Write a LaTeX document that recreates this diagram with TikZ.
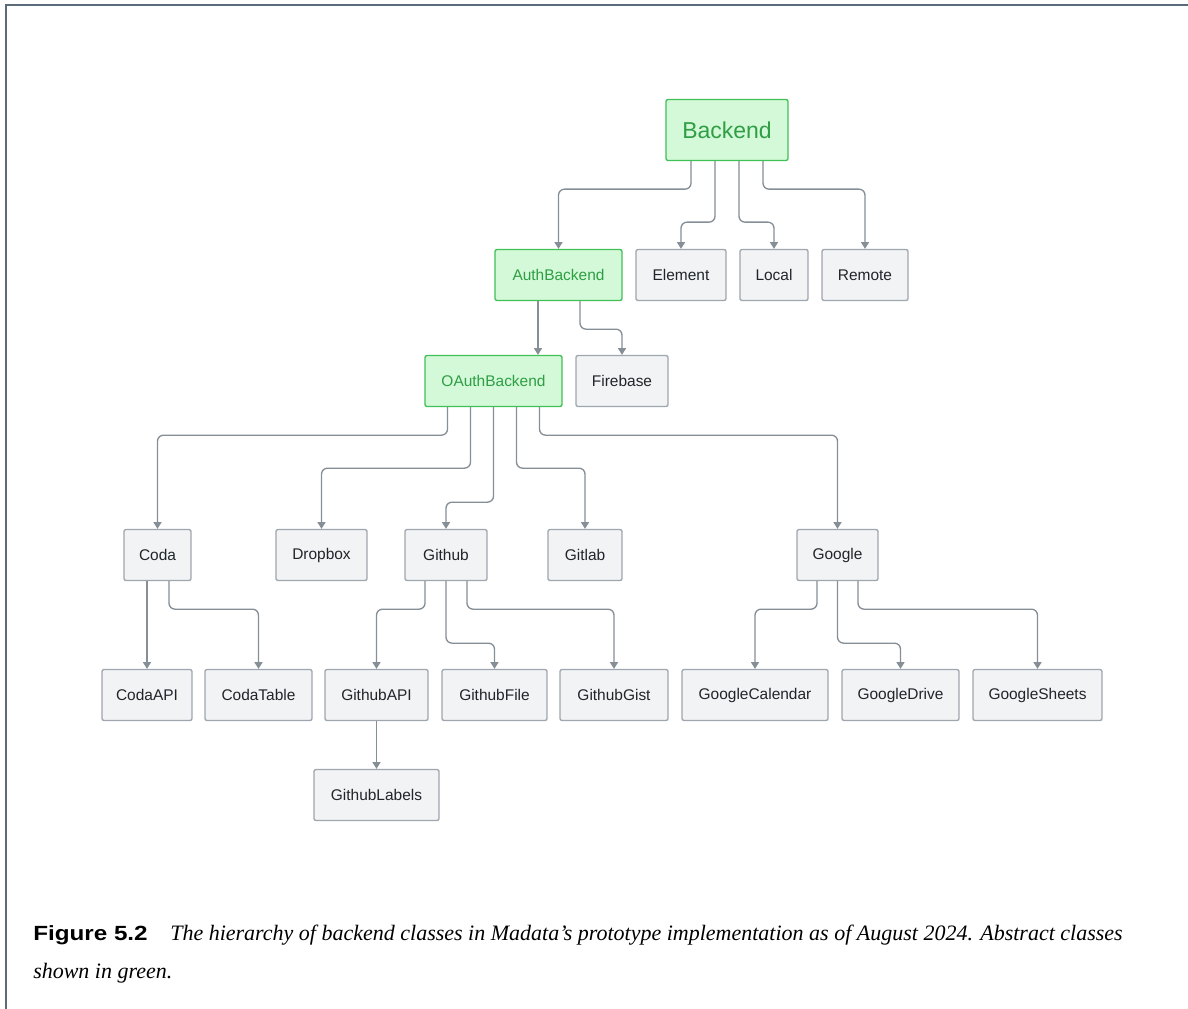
\documentclass[tikz,border=0pt]{standalone}
\usepackage{fontspec}
\setmainfont{Liberation Serif}
\setsansfont{Liberation Sans}
\usetikzlibrary{arrows.meta}
\definecolor{gfill}{HTML}{F1F3F5}
\definecolor{gborder}{HTML}{A0A6AD}
\definecolor{edgec}{HTML}{868E96}
\definecolor{afill}{HTML}{D3F9D8}
\definecolor{aborder}{HTML}{40C057}
\definecolor{atext}{HTML}{2F9E44}
\definecolor{dtext}{HTML}{212529}
\definecolor{framec}{HTML}{5C6B7A}
\newfontfamily\capbold[FakeStretch=1.18]{Liberation Sans Bold}
\tikzset{
  cls/.style={draw=gborder, fill=gfill, line width=1pt, rounded corners=1.5pt,
    minimum height=38.25pt, inner sep=0pt, text=dtext,
    font=\sffamily\fontsize{11.6pt}{14pt}\selectfont},
  abs/.style={cls, draw=aborder, fill=afill, text=atext},
  edge/.style={draw=edgec, line width=1pt, rounded corners=4.5pt,
    -{Triangle[width=6pt,length=5pt]}},
  capt/.style={anchor=base west, inner sep=0pt, text=black}
}
\begin{document}
\begin{tikzpicture}[x=0.75pt,y=-0.75pt]
\useasboundingbox (0,0) rectangle (1188,1009);
% frame
\draw[framec, line width=1.6pt] (6,1009) -- (6,5) -- (1188,5);

% nodes
\node[abs, minimum width=91.5pt, minimum height=45.75pt, font=\sffamily\fontsize{17.25pt}{20pt}\selectfont] (Backend) at (727,130) {Backend};
\node[abs, minimum width=95.25pt] (AuthBackend) at (558.5,275) {AuthBackend};
\node[cls, minimum width=67.5pt] (Element) at (681,275) {Element};
\node[cls, minimum width=51pt] (Local) at (774,275) {Local};
\node[cls, minimum width=64.5pt] (Remote) at (865,275) {Remote};
\node[abs, minimum width=102.75pt] (OAuthBackend) at (493.5,381) {OAuthBackend};
\node[cls, minimum width=69pt] (Firebase) at (622,381) {Firebase};
\node[cls, minimum width=50.25pt] (Coda) at (157.5,555) {Coda};
\node[cls, minimum width=68.25pt] (Dropbox) at (321.5,555) {Dropbox};
\node[cls, minimum width=61.5pt] (Github) at (446,555) {Github};
\node[cls, minimum width=55.5pt] (Gitlab) at (585,555) {Gitlab};
\node[cls, minimum width=60.75pt] (Google) at (837.5,555) {Google};
\node[cls, minimum width=67.5pt] (CodaAPI) at (147,695) {CodaAPI};
\node[cls, minimum width=80.25pt] (CodaTable) at (258.5,695) {CodaTable};
\node[cls, minimum width=77.25pt] (GithubAPI) at (376.5,695) {GithubAPI};
\node[cls, minimum width=78.75pt] (GithubFile) at (494.5,695) {GithubFile};
\node[cls, minimum width=81pt] (GithubGist) at (614,695) {GithubGist};
\node[cls, minimum width=109.5pt] (GoogleCalendar) at (755,695) {GoogleCalendar};
\node[cls, minimum width=87.75pt] (GoogleDrive) at (900.5,695) {GoogleDrive};
\node[cls, minimum width=96.75pt] (GoogleSheets) at (1037.5,695) {GoogleSheets};
\node[cls, minimum width=93.75pt] (GithubLabels) at (376.5,795) {GithubLabels};

% edges from Backend
\draw[edge] ([shift={(-36,0)}]Backend.south) -- ++(0,28) -| (AuthBackend.north);
\draw[edge] ([shift={(-12,0)}]Backend.south) -- ++(0,61) -| (Element.north);
\draw[edge] ([shift={(12,0)}]Backend.south) -- ++(0,61) -| (Local.north);
\draw[edge] ([shift={(36,0)}]Backend.south) -- ++(0,28) -| (Remote.north);
% AuthBackend
\coordinate (ab1) at ([shift={(-20.5,0)}]AuthBackend.south);
\draw[edge] (ab1) -- (ab1 |- OAuthBackend.north);
\draw[edge] ([shift={(21.5,0)}]AuthBackend.south) -- ++(0,28) -| (Firebase.north);
% OAuthBackend
\draw[edge] ([shift={(-46,0)}]OAuthBackend.south) -- ++(0,28) -| (Coda.north);
\draw[edge] ([shift={(-23,0)}]OAuthBackend.south) -- ++(0,61) -| (Dropbox.north);
\draw[edge] (OAuthBackend.south) -- ++(0,95) -| (Github.north);
\draw[edge] ([shift={(23,0)}]OAuthBackend.south) -- ++(0,61) -| (Gitlab.north);
\draw[edge] ([shift={(46,0)}]OAuthBackend.south) -- ++(0,28) -| (Google.north);
% Coda
\coordinate (cd1) at ([shift={(-10.5,0)}]Coda.south);
\draw[edge] (cd1) -- (cd1 |- CodaAPI.north);
\draw[edge] ([shift={(11.5,0)}]Coda.south) -- ++(0,28) -| (CodaTable.north);
% Github
\draw[edge] ([shift={(-21,0)}]Github.south) -- ++(0,28) -| (GithubAPI.north);
\draw[edge] (Github.south) -- ++(0,62) -| (GithubFile.north);
\draw[edge] ([shift={(21,0)}]Github.south) -- ++(0,28) -| (GithubGist.north);
% Google
\draw[edge] ([shift={(-20.5,0)}]Google.south) -- ++(0,28) -| (GoogleCalendar.north);
\draw[edge] (Google.south) -- ++(0,62) -| (GoogleDrive.north);
\draw[edge] ([shift={(20.5,0)}]Google.south) -- ++(0,28) -| (GoogleSheets.north);
% GithubAPI
\draw[edge] (GithubAPI.south) -- (GithubLabels.north);

% caption
\node[capt, font=\capbold\fontsize{15.4pt}{18pt}\selectfont] (figlbl) at (33,940) {Figure 5.2};
\node[capt, font=\itshape\fontsize{16.5pt}{19pt}\selectfont] (cap1) at (170,940) {The hierarchy of backend classes in Madata's prototype implementation as of August 2024. Abstract classes};
\node[capt, font=\itshape\fontsize{16.5pt}{19pt}\selectfont] (cap2) at (33,978) {shown in green.};
\end{tikzpicture}
\end{document}
